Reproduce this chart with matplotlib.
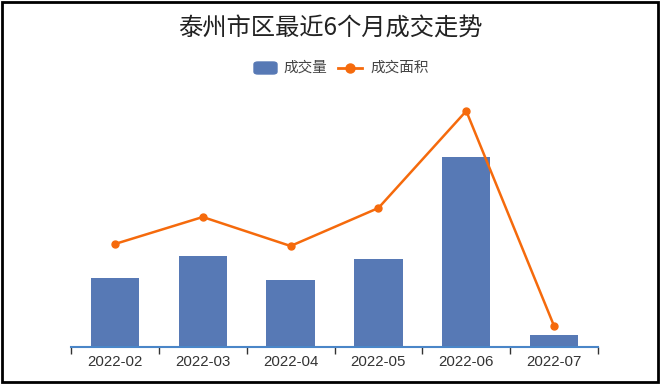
import matplotlib
matplotlib.use("Agg")
import matplotlib.pyplot as plt
from matplotlib.patches import Rectangle, FancyBboxPatch
from matplotlib.lines import Line2D

plt.rcParams['font.family'] = ['Noto Sans CJK SC', 'DejaVu Sans']

title = "泰州市区最近6个月成交走势"
months = ["2022-02", "2022-03", "2022-04", "2022-05", "2022-06", "2022-07"]
volume = [345, 455, 335, 440, 950, 60]          # 成交量
area = [4.12, 5.20, 4.04, 5.56, 9.44, 0.84]     # 成交面积

bar_color = "#5779b5"
line_color = "#f56a0c"

fig = plt.figure(figsize=(6.6, 3.85), dpi=100)
ax = fig.add_axes([71/660, 38/385, (598-71)/660, (347-90)/385])
ax2 = ax.twinx()

x = list(range(len(months)))
ax.bar(x, volume, width=0.55, color=bar_color, zorder=2)
ax2.plot(x, area, color=line_color, lw=1.8, marker='o', ms=5, zorder=3)

ax.set_xlim(-0.5, len(months) - 0.5)
ax.set_ylim(0, 1285)
ax2.set_ylim(0, 10.28)

for a in (ax, ax2):
    for s in ('top', 'right', 'left'):
        a.spines[s].set_visible(False)
    a.set_yticks([])
ax2.spines['bottom'].set_visible(False)
ax.spines['bottom'].set_color('#4a86c8')
ax.spines['bottom'].set_linewidth(1.5)

ax.set_xticks([i - 0.5 for i in range(len(months) + 1)], minor=False)
ax.set_xticklabels([])
ax.set_xticks(x, minor=True)
ax.set_xticklabels(months, minor=True, fontsize=10.8, color='#333333', family='Liberation Sans')
ax.tick_params(axis='x', which='major', length=5, color='#333333', width=1)
ax.tick_params(axis='x', which='minor', length=0, pad=6)

fig.text(0.5, 1 - 28/385, title, ha='center', va='center', fontsize=17.5, color='#222222')

# legend
ly = 1 - 68/385
fig.patches.append(FancyBboxPatch((254/660, 1 - 74/385), 23/660, 12/385, boxstyle="round,pad=0,rounding_size=0.006",
                                  transform=fig.transFigure, color=bar_color, figure=fig))
fig.text(283/660, ly, "成交量", ha='left', va='center', fontsize=10.5, color='#444444')
fig.lines.append(Line2D([338/660, 345/660], [ly, ly], transform=fig.transFigure, color=line_color, lw=2, figure=fig))
fig.lines.append(Line2D([355/660, 362/660], [ly, ly], transform=fig.transFigure, color=line_color, lw=2, figure=fig))
fig.lines.append(Line2D([350/660], [ly], transform=fig.transFigure, color=line_color, marker='o', ms=6.5,
                        linestyle='None', figure=fig))
fig.text(370/660, ly, "成交面积", ha='left', va='center', fontsize=10.5, color='#444444')

# outer border
fig.patches.append(Rectangle((1.5/660, 3/385), 656/660, 380/385, transform=fig.transFigure,
                             fill=False, edgecolor='black', lw=2, figure=fig))

fig.savefig("out.png", dpi=100)
